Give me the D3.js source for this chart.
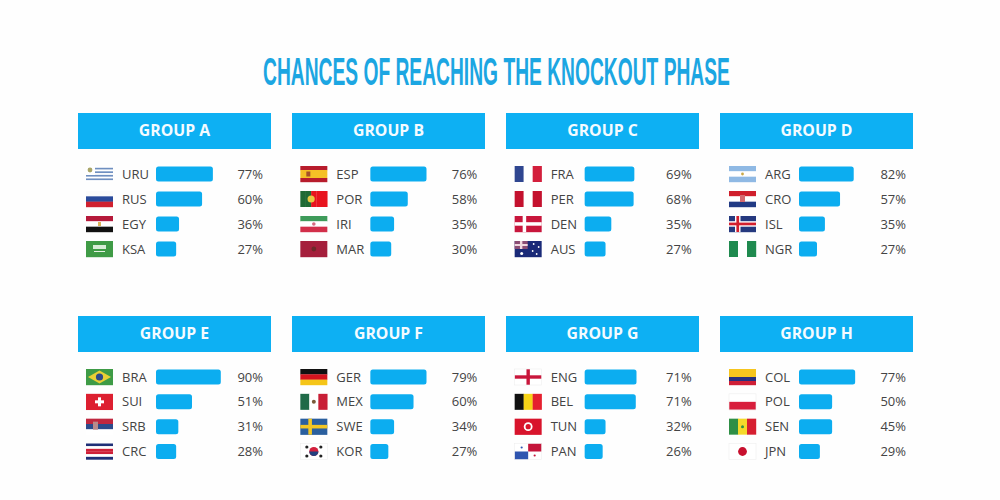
<!DOCTYPE html>
<html><head><meta charset="utf-8">
<script src="https://cdnjs.cloudflare.com/ajax/libs/d3/7.8.5/d3.min.js"></script>
<style>html,body{margin:0;padding:0;background:#fefefe}svg{display:block}</style>
</head><body><svg id="c" width="1000" height="500"></svg>
<script>
const chartTitle = "CHANCES OF REACHING THE KNOCKOUT PHASE";
const groups = ["GROUP A","GROUP B","GROUP C","GROUP D","GROUP E","GROUP F","GROUP G","GROUP H"];
const teams = [
  ["URU","RUS","EGY","KSA"],["ESP","POR","IRI","MAR"],["FRA","PER","DEN","AUS"],["ARG","CRO","ISL","NGR"],
  ["BRA","SUI","SRB","CRC"],["GER","MEX","SWE","KOR"],["ENG","BEL","TUN","PAN"],["COL","POL","SEN","JPN"]];
const chances = [
  [77,60,36,27],[76,58,35,30],[69,68,35,27],[82,57,35,27],
  [90,51,31,28],[79,60,34,27],[71,71,32,26],[77,50,45,29]];
// bar lengths as drawn in the picture, in the same percent units (they differ slightly from the printed labels)
const barLevels = [
  [79,64,32,28],[78,52,33,29],[69,68,37,29],[76,57,36,25],
  [90,50,31,28],[78,60,33,25],[72,71,29,25],[78,46,46,29]];

const flagStripes = {
  URU:["h",["#fff","#6f8fc0","#fff","#6f8fc0","#fff","#6f8fc0","#fff","#6f8fc0","#fff"]],
  RUS:["h",["#fbfbfb","#2a4a9a","#d0202f"]], EGY:["h",["#b5193a","#fff","#111"]], KSA:["h",["#3f9b46"]],
  ESP:["h",["#b71c2c","#f5c026","#f5c026","#b71c2c"]], POR:["v",["#1f6a35","#1f6a35","#e8141e","#e8141e","#e8141e"]],
  IRI:["h",["#3e9b5a","#fff","#d22f4a"]], MAR:["h",["#a51f3c"]],
  FRA:["v",["#2f4690","#fff","#d31f3c"]], PER:["v",["#c4112e","#fff","#c4112e"]], DEN:["h",["#c8163c"]], AUS:["h",["#1a2a78"]],
  ARG:["h",["#8fb9e4","#fff","#8fb9e4"]], CRO:["h",["#d01f2c","#fff","#213a84"]], ISL:["h",["#25397f"]], NGR:["v",["#1f8a4f","#fff","#1f8a4f"]],
  BRA:["h",["#3e9b46"]], SUI:["h",["#dd1f30"]], SRB:["h",["#c0273f","#2c4b8c","#fff"]], CRC:["h",["#1f2f77","#fff","#cf1f37","#cf1f37","#fff","#1f2f77"]],
  GER:["h",["#111","#d4141e","#f5c518"]], MEX:["v",["#1f6a48","#fff","#c81e36"]], SWE:["h",["#2a5f9e"]], KOR:["h",["#fff"]],
  ENG:["h",["#fff"]], BEL:["v",["#111","#f7d417","#e5202e"]], TUN:["h",["#d8142c"]], PAN:["h",["#fff"]],
  COL:["h",["#f6c51e","#f6c51e","#27307f","#cf1f37"]], POL:["h",["#fff","#d81e3c"]], SEN:["v",["#2f8f46","#f5d92a","#d61f30"]], JPN:["h",["#fff"]]
};

const svg = d3.select("#c");
const titleText = svg.append("text").attr("y",85).attr("x",0)
  .attr("font-family","'Liberation Sans Narrow','Liberation Sans',sans-serif").attr("font-weight",700).attr("font-size",38)
  .attr("fill","#1ca6e2").text(chartTitle);
const titleLen = titleText.node().getComputedTextLength();
titleText.attr("transform",`translate(263,0) scale(${467/titleLen},1)`);

const panelX = d3.scalePoint().domain([0,1,2,3]).range([78,720]);
const colX = d3.scalePoint().domain([0,1,2,3]).range([78,721]);
const headerY = d3.scalePoint().domain([0,1]).range([113,316]);
const rowY = [d3.scalePoint().domain([0,1,2,3]).range([174,249]), d3.scalePoint().domain([0,1,2,3]).range([377,451.5])];
const barW = d3.scaleLinear().domain([0,100]).range([0,72]);
const FW=27, FH=16;

function drawFlag(g, code){
  const [dir, cols] = flagStripes[code];
  const inner = g.append("g");
  const cp = d3.scaleBand().domain(d3.range(cols.length)).range([0, dir==="h"?FH:FW]);
  cols.forEach((c,i)=>{
    const r = inner.append("rect").attr("fill",c);
    if(dir==="h") r.attr("x",0).attr("y",cp(i)).attr("width",FW).attr("height",cp.bandwidth()+.2);
    else r.attr("x",cp(i)).attr("y",0).attr("width",cp.bandwidth()+.2).attr("height",FH);
  });
  const R=(x,y,w,h,f)=>inner.append("rect").attr("x",x).attr("y",y).attr("width",w).attr("height",h).attr("fill",f);
  const C=(x,y,r,f)=>inner.append("circle").attr("cx",x).attr("cy",y).attr("r",r).attr("fill",f);
  const P=(pts,f)=>inner.append("polygon").attr("points",pts).attr("fill",f);
  const cx=FW/2, cy=FH/2;
  if(code==="URU"){R(0,0,9,9,"#fff");C(4,4,2.4,"#a9a66a");}
  if(code==="EGY")R(cx-1.5,cy-2,3,4,"#d9b45a");
  if(code==="KSA"){R(7,4,13,4,"#d9ecd8");R(8,10,11,1,"#e6f2e4");}
  if(code==="ESP")R(6,5.5,4,5,"#a5502a");
  if(code==="POR")C(10.8,cy,3.6,"#e9c843");
  if(code==="IRI")C(cx,cy,1.8,"#d56a80");
  if(code==="MAR")C(cx,cy,2.4,"#6b2a2a");
  if(code==="DEN"){R(8,0,3.5,FH,"#fff");R(0,6.2,FW,3.5,"#fff");}
  if(code==="AUS"){R(0,0,13,8,"#8b4d74");R(5.3,0,2.4,8,"#f0d8de");R(0,3,13,2,"#f0d8de");C(7,12.5,1.5,"#fff");[[19,3],[24,6],[18,10],[22,13]].forEach(p=>C(p[0],p[1],.9,"#fff"));}
  if(code==="ARG")C(cx,cy,1.4,"#c9a94a");
  if(code==="CRO")R(cx-2.5,4,5,7,"#d46a70");
  if(code==="ISL"){R(6,0,5.5,FH,"#fff");R(0,5.2,FW,5.5,"#fff");R(7.4,0,2.7,FH,"#d3202f");R(0,6.6,FW,2.7,"#d3202f");}
  if(code==="BRA"){P(`${cx},1.5 ${FW-2},${cy} ${cx},${FH-1.5} 2,${cy}`,"#e9cf35");C(cx,cy,3.6,"#2d4a8a");}
  if(code==="SUI"){R(cx-4.5,cy-1.5,9,3,"#fff");R(cx-1.5,cy-4.5,3,9,"#fff");}
  if(code==="SRB")R(7,3,5,8,"#b98a8a");
  if(code==="MEX")C(cx,cy,2,"#7a5a3a");
  if(code==="SWE"){R(8,0,3.6,FH,"#f3c623");R(0,6.2,FW,3.6,"#f3c623");}
  if(code==="KOR"){C(cx,cy,4.6,"#d31f3c");inner.append("path").attr("d",`M${cx-4.6},${cy}A4.6,4.6 0 0 0 ${cx+4.6},${cy}Z`).attr("fill","#23407f");
    [[6.5,3.5],[20.5,3.5],[6.5,12.5],[20.5,12.5]].forEach(p=>C(p[0],p[1],1.6,"#222"));}
  if(code==="ENG"){R(cx-1.7,0,3.4,FH,"#c9173c");R(0,cy-1.7,FW,3.4,"#c9173c");}
  if(code==="TUN"){C(cx,cy,4.4,"#fff");C(cx,cy,2.6,"#d8142c");}
  if(code==="PAN"){R(13.5,0,13.5,8,"#c4153a");R(0,8,13.5,8,"#2f55b0");C(7,4,1.1,"#2f55b0");C(20,12,1.1,"#c4153a");}
  if(code==="SEN")C(cx,cy,1.5,"#2f8f46");
  if(code==="JPN")C(cx,cy,4.4,"#c8102e");
  if(["POL","KOR","JPN","ENG","PAN"].includes(code))
    g.append("rect").attr("width",FW).attr("height",FH).attr("fill","none").attr("stroke","#eeeeee").attr("stroke-width",.6);
}

groups.forEach((name,gi)=>{
  const c = gi%4, r = Math.floor(gi/4), x0 = colX(c), y0 = headerY(r);
  const panel = svg.append("g").attr("transform",`translate(${panelX(c)},${y0})`);
  panel.append("rect").attr("width",193).attr("height",36).attr("fill","#0db0f3");
  panel.append("text").attr("x",96.5).attr("y",23.3).attr("text-anchor","middle")
    .attr("font-family","'Open Sans',sans-serif").attr("font-weight",700).attr("font-size",15.8)
    .attr("fill","#f4fbff").text(name);
  const rows = svg.append("g").selectAll("g").data(teams[gi]).join("g")
    .attr("transform",(d,i)=>`translate(${x0},${rowY[r](i)})`);
  rows.each(function(d){ drawFlag(d3.select(this).append("g").attr("transform",`translate(8,${-FH/2})`), d); });
  rows.append("text").attr("x",44).attr("y",4.6).attr("font-family","'Open Sans',sans-serif")
    .attr("font-size",13).attr("fill","#444").text(d=>d);
  rows.append("rect").attr("x",78).attr("y",-7.5).attr("height",15).attr("rx",2.5)
    .attr("width",(d,i)=>barW(barLevels[gi][i])).attr("fill","#0cadf0");
  rows.append("text").attr("x",185).attr("y",4.6).attr("text-anchor","end")
    .attr("font-family","'Open Sans',sans-serif").attr("font-size",13).attr("fill","#444")
    .text((d,i)=>chances[gi][i]+"%");
});
</script></body></html>
